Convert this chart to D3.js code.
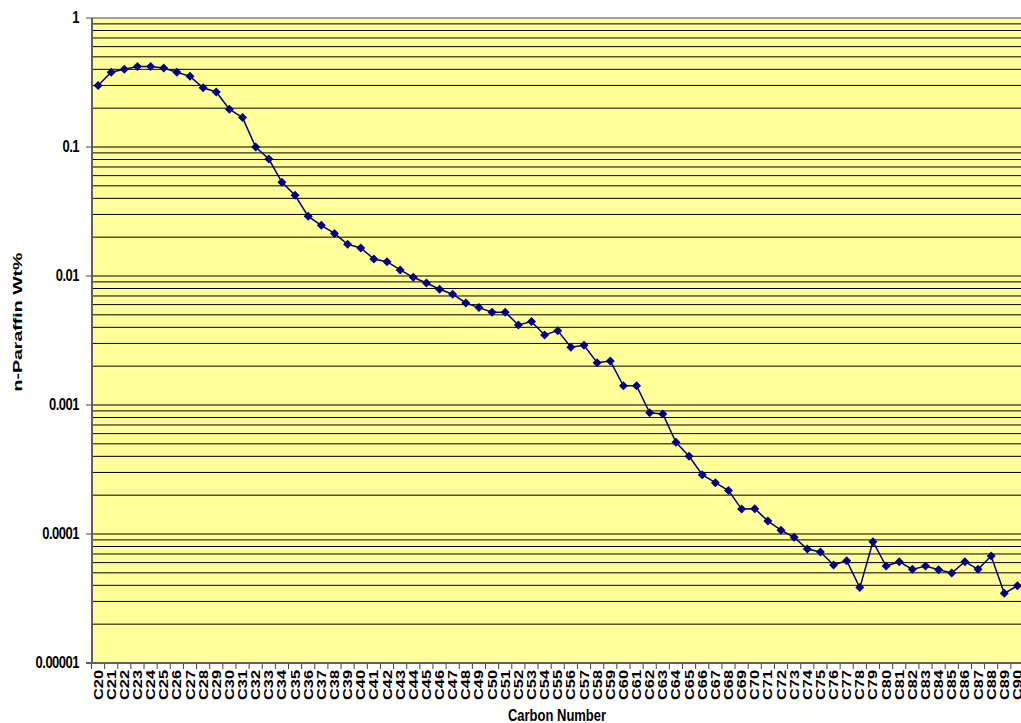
<!DOCTYPE html>
<html>
<head>
<meta charset="utf-8">
<script src="https://cdn.jsdelivr.net/npm/d3@7"></script>
<style>
  body { margin: 0; background: #fff; }
  svg { display: block; font-family: "Liberation Sans", Arial, sans-serif; font-weight: bold; }
</style>
</head>
<body>
<div id="chart"></div>
<script>
// carbon numbers along the x axis
var categories = ["C20","C21","C22","C23","C24","C25","C26","C27","C28","C29",
  "C30","C31","C32","C33","C34","C35","C36","C37","C38","C39",
  "C40","C41","C42","C43","C44","C45","C46","C47","C48","C49",
  "C50","C51","C52","C53","C54","C55","C56","C57","C58","C59",
  "C60","C61","C62","C63","C64","C65","C66","C67","C68","C69",
  "C70","C71","C72","C73","C74","C75","C76","C77","C78","C79",
  "C80","C81","C82","C83","C84","C85","C86","C87","C88","C89","C90"];

// n-paraffin wt% for each carbon number
var wtPct = [0.30, 0.38, 0.40, 0.42, 0.42, 0.41, 0.38, 0.353, 0.288, 0.267,
  0.196, 0.169, 0.100, 0.0807, 0.0532, 0.0422, 0.0290, 0.0247, 0.0214, 0.0176,
  0.0165, 0.01355, 0.0129, 0.01114, 0.00977, 0.00883, 0.00789, 0.00722, 0.00618, 0.00569,
  0.00524, 0.00524, 0.00417, 0.00443, 0.00349, 0.00377, 0.00280, 0.00290, 0.00213, 0.00219,
  0.00141, 0.00141, 0.000871, 0.000851, 0.000514, 0.000400, 0.000288, 0.000250, 0.000217, 0.000156,
  0.000157, 0.000126, 0.000107, 0.0000942, 0.0000765, 0.0000725, 0.0000575, 0.0000621, 0.0000384, 0.0000871,
  0.0000565, 0.0000610, 0.0000532, 0.0000565, 0.0000528, 0.0000499, 0.0000610, 0.0000532, 0.0000675, 0.0000347,
  0.0000397];

var yTickValues = [1, 0.1, 0.01, 0.001, 0.0001, 0.00001];
var yTickLabels = ["1", "0.1", "0.01", "0.001", "0.0001", "0.00001"];

var W = 1021, H = 723;
var plotLeft = 92, plotTop = 18, plotBottom = 663, plotRight = 1024;
var navy = "#000080";

var svg = d3.select("#chart").append("svg")
  .attr("width", W)
  .attr("height", H);

var x = d3.scaleBand().domain(categories).range([91.5, plotRight]);
var y = d3.scaleLog().domain([0.00001, 1]).range([plotBottom, plotTop]);

// plot background
svg.append("rect")
  .attr("x", plotLeft).attr("y", plotTop)
  .attr("width", plotRight - plotLeft).attr("height", plotBottom - plotTop)
  .attr("fill", "#ffff99");

// gridlines on every log tick
var gridVals = y.ticks(50).filter(function(d){ return d < 1; });
svg.selectAll("line.grid")
  .data(gridVals)
  .enter().append("line")
    .attr("class", "grid")
    .attr("x1", plotLeft).attr("x2", plotRight)
    .attr("y1", function(d){ return y(d); })
    .attr("y2", function(d){ return y(d); })
    .style("stroke", "#000")
    .style("stroke-width", 1);

// top border line at 1
svg.append("line")
  .attr("x1", plotLeft).attr("x2", plotRight)
  .attr("y1", y(1)).attr("y2", y(1))
  .style("stroke", "#808080").style("stroke-width", 1.5);

// y axis
svg.selectAll("line.ytick")
  .data(yTickValues)
  .enter().append("line")
    .attr("x1", plotLeft - 6).attr("x2", plotLeft)
    .attr("y1", function(d){ return y(d); })
    .attr("y2", function(d){ return y(d); })
    .style("stroke", "#404040").style("stroke-width", 1);

svg.selectAll("text.ylab")
  .data(yTickValues)
  .enter().append("text")
    .attr("transform", function(d){ return "translate(79," + (y(d) + 5) + ") scale(1,1.2)"; })
    .attr("text-anchor", "end")
    .style("font-size", "13px")
    .style("letter-spacing", "-0.5px")
    .text(function(d, i){ return yTickLabels[i]; });

// x ticks at band edges
var edges = categories.map(function(c){ return x(c); }).concat([x(categories[categories.length - 1]) + x.bandwidth()]);
svg.selectAll("line.xtick")
  .data(edges)
  .enter().append("line")
    .attr("x1", function(d){ return d; }).attr("x2", function(d){ return d; })
    .attr("y1", plotBottom).attr("y2", plotBottom + 6)
    .style("stroke", "#404040").style("stroke-width", 1);

svg.selectAll("text.xlab")
  .data(categories)
  .enter().append("text")
    .attr("transform", function(d){ return "translate(" + (x(d) + x.bandwidth() / 2 + 4.5) + "," + (plotBottom + 7) + ") rotate(-90)"; })
    .attr("text-anchor", "end")
    .attr("textLength", 30)
    .attr("lengthAdjust", "spacingAndGlyphs")
    .style("font-size", "13px")
    .text(function(d){ return d; });

// axis lines
svg.append("line")
  .attr("x1", plotLeft).attr("x2", plotLeft).attr("y1", plotTop).attr("y2", plotBottom + 1)
  .style("stroke", "#606060").style("stroke-width", 2);
svg.append("line")
  .attr("x1", plotLeft - 6).attr("x2", plotRight).attr("y1", plotBottom).attr("y2", plotBottom)
  .style("stroke", "#606060").style("stroke-width", 2);

// series line
var line = d3.line()
  .x(function(d, i){ return x(categories[i]) + x.bandwidth() / 2; })
  .y(function(d){ return y(d); });

svg.append("path")
  .datum(wtPct)
  .attr("d", line)
  .attr("fill", "none")
  .style("stroke", navy)
  .style("stroke-width", 1.5);

// diamond markers
svg.selectAll("path.marker")
  .data(wtPct)
  .enter().append("path")
    .attr("transform", function(d, i){ return "translate(" + (x(categories[i]) + x.bandwidth() / 2) + "," + y(d) + ")"; })
    .attr("d", "M0,-4.5L4.5,0L0,4.5L-4.5,0Z")
    .attr("fill", navy);

// axis titles
svg.append("text")
  .attr("transform", "translate(557,721) scale(1,1.25)")
  .attr("text-anchor", "middle")
  .style("font-size", "13px")
  .text("Carbon Number");

svg.append("text")
  .attr("transform", "translate(22,322) rotate(-90)")
  .attr("text-anchor", "middle")
  .attr("textLength", 139)
  .attr("lengthAdjust", "spacingAndGlyphs")
  .style("font-size", "13px")
  .text("n-Paraffin Wt%");
</script>
</body>
</html>
